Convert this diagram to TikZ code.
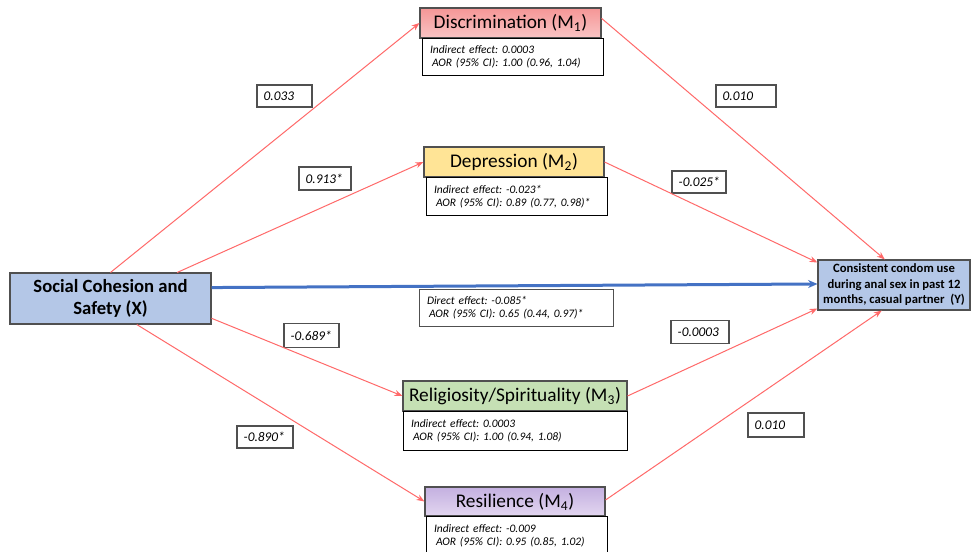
\documentclass[tikz,border=0pt]{standalone}
\usepackage{fontspec}
\setmainfont{Carlito}
\frenchspacing
\usetikzlibrary{arrows.meta,calc}
\definecolor{redln}{RGB}{255,105,105}
\definecolor{blueln}{RGB}{68,114,196}
\definecolor{xfill}{RGB}{180,199,231}
\definecolor{mtwo}{RGB}{255,228,150}
\definecolor{mthree}{RGB}{197,224,180}
\definecolor{bordr}{RGB}{80,80,80}
\tikzset{
  mbox/.style={draw=bordr, line width=0.8pt, inner sep=0pt, font=\fontsize{14.5}{16}\selectfont},
  infobox/.style={draw=black, fill=white, line width=0.75pt, inner xsep=6pt, inner ysep=0pt,
    align=left, anchor=north, font=\fontsize{8.6}{9.75}\itshape\selectfont},
  coef/.style={draw=bordr, fill=white, line width=0.9pt, inner xsep=5pt, inner ysep=0pt,
    align=left, text width=#1, font=\fontsize{10}{12}\itshape\selectfont},
  redarrow/.style={draw=redln, line width=0.75pt, -{Stealth[length=6pt,width=4.5pt]}},
  bluearrow/.style={draw=blueln, line width=2.25pt, -{Stealth[length=7pt,width=6pt]}},
}
\begin{document}
\begin{tikzpicture}[x=0.75pt,y=-0.75pt]
\useasboundingbox (0,0) rectangle (971,552);
\fill[white] (0,0) rectangle (971,552);

% nodes
\node[mbox, top color={rgb,255:red,245;green,150;blue,150}, bottom color={rgb,255:red,249;green,196;blue,196},
  minimum width=135.75pt, minimum height=22.5pt] (M1) at (510.5,23) {Discrimination (M\textsubscript{1})};
\node[infobox, minimum width=135.75pt, text width=123.75pt, minimum height=27.75pt] (I1) at (512.5,38)
  {Indirect effect: 0.0003\\\hspace*{1.5pt}AOR (95\% CI): 1.00 (0.96, 1.04)};

\node[mbox, fill=mtwo, minimum width=135pt, minimum height=22.5pt] (M2) at (514,162) {Depression (M\textsubscript{2})};
\node[infobox, text width=123.75pt, minimum height=28.5pt] (I2) at (516.5,177)
  {Indirect effect: -0.023*\\\hspace*{1.5pt}AOR (95\% CI): 0.89 (0.77, 0.98)*};

\node[mbox, fill=xfill, minimum width=150.75pt, minimum height=38.25pt, align=center,
  font=\fontsize{14}{16.5}\bfseries\selectfont] (X) at (110.5,298.5) {Social Cohesion and\\Safety (X)};

\node[mbox, fill=xfill, minimum width=114pt, minimum height=37.5pt, align=center,
  font=\fontsize{9.5}{11.6}\bfseries\selectfont] (Y) at (894,285)
  {Consistent condom use\\during anal sex in past 12\\months, casual partner~~(Y)};

\node[infobox, draw=bordr, text width=133.5pt, minimum height=27.75pt] (D) at (516,289)
  {Direct effect: -0.085*\\\hspace*{1.5pt}AOR (95\% CI): 0.65 (0.44, 0.97)*};

\node[mbox, fill=mthree, minimum width=168pt, minimum height=22.5pt] (M3) at (515,396) {Religiosity/Spirituality (M\textsubscript{3})};
\node[infobox, text width=156pt, minimum height=29.25pt] (I3) at (515,411)
  {Indirect effect: 0.0003\\\hspace*{1.5pt}AOR (95\% CI): 1.00 (0.94, 1.08)};

\node[mbox, top color={rgb,255:red,196;green,176;blue,224}, bottom color={rgb,255:red,226;green,214;blue,240},
  minimum width=135pt, minimum height=21.75pt] (M4) at (515,501.5) {Resilience (M\textsubscript{4})};
\node[infobox, text width=123.75pt, minimum height=28.5pt] (I4) at (516.5,516)
  {Indirect effect: -0.009\\\hspace*{1.5pt}AOR (95\% CI): 0.95 (0.85, 1.02)};

% coefficient labels
\node[coef=31.25pt, minimum height=16.5pt] (c1) at (284.5,96) {\mbox{0.033}};
\node[coef=29pt, minimum height=17.25pt] (c2) at (325,178.5) {\mbox{0.913*}};
\node[coef=35pt, minimum height=16.5pt] (c3) at (746,96) {\mbox{0.010}};
\node[coef=30.5pt, minimum height=16.5pt] (c4) at (699,182) {\mbox{-0.025*}};
\node[coef=31.25pt, minimum height=18pt] (c5) at (311.5,335.5) {\mbox{-0.689*}};
\node[coef=32pt, minimum height=16.5pt] (c6) at (265,437) {\mbox{-0.890*}};
\node[coef=33.5pt, minimum height=17.25pt] (c7) at (700,332) {\mbox{-0.0003}};
\node[coef=32pt, minimum height=18pt] (c8) at (776,425) {\mbox{0.010}};

% connectors
\draw[redarrow] (X.north) -- (M1.west);
\draw[redarrow] ($(X.north west)!0.83!(X.north east)$) -- (M2.west);
\draw[redarrow] ($(X.north east)!0.88!(X.south east)$) -- (M3.west);
\draw[redarrow] ($(X.south west)!0.63!(X.south east)$) -- (M4.west);
\draw[redarrow] ($(M1.north east)!0.35!(M1.south east)$) -- ($(Y.north west)!0.44!(Y.north east)$);
\draw[redarrow] (M2.east) -- ($(Y.north west)!0.06!(Y.south west)$);
\draw[redarrow] (M3.east) -- ($(Y.north west)!0.96!(Y.south west)$);
\draw[redarrow] ($(M4.north east)!0.45!(M4.south east)$) -- ($(Y.south west)!0.42!(Y.south east)$);
\draw[bluearrow] ($(X.north east)!0.29!(X.south east)$) -- ($(Y.north west)!0.48!(Y.south west)$);
\end{tikzpicture}
\end{document}
